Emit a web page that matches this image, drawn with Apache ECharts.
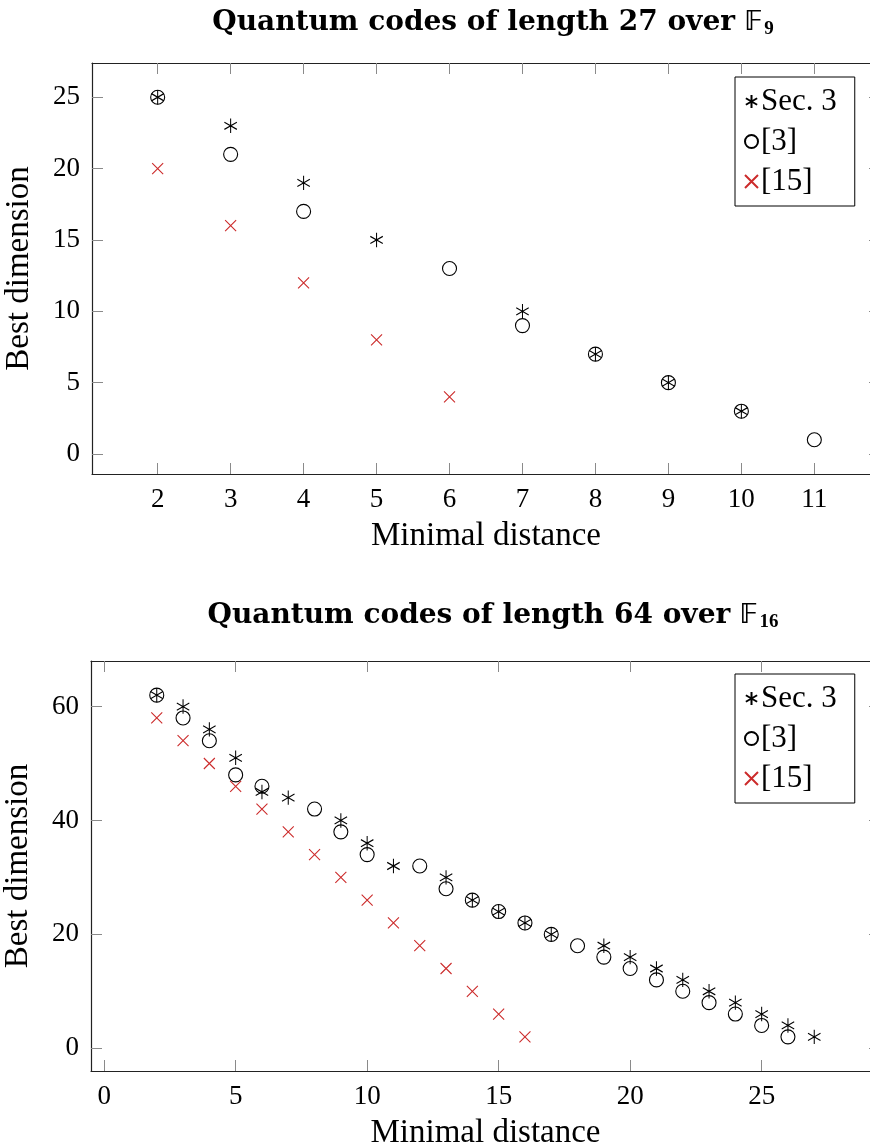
<!DOCTYPE html>
<html>
<head>
<meta charset="utf-8">
<script src="https://cdn.jsdelivr.net/npm/echarts@6/dist/echarts.min.js"></script>
<style>
html,body{margin:0;padding:0;background:#fff;overflow:hidden;}
#c{width:870px;height:1147px;}
</style>
</head>
<body>
<div id="c"></div>
<script>
// ---- Chart 1: length 27 over F9 ----
var top_sec3_d = [2, 3, 4, 5, 7, 8, 9, 10];
var top_sec3_k = [25, 23, 19, 15, 10, 7, 5, 3];
var top_ref3_d = [2, 3, 4, 6, 7, 8, 9, 10, 11];
var top_ref3_k = [25, 21, 17, 13, 9, 7, 5, 3, 1];
var top_ref15_d = [2, 3, 4, 5, 6];
var top_ref15_k = [20, 16, 12, 8, 4];
var top_xticks = [2, 3, 4, 5, 6, 7, 8, 9, 10, 11];
var top_yticks = [0, 5, 10, 15, 20, 25];

// ---- Chart 2: length 64 over F16 ----
var bot_sec3_d = [2, 3, 4, 5, 6, 7, 9, 10, 11, 13, 14, 15, 16, 17, 19, 20, 21, 22, 23, 24, 25, 26, 27];
var bot_sec3_k = [62, 60, 56, 51, 45, 44, 40, 36, 32, 30, 26, 24, 22, 20, 18, 16, 14, 12, 10, 8, 6, 4, 2];
var bot_ref3_d = [2, 3, 4, 5, 6, 8, 9, 10, 12, 13, 14, 15, 16, 17, 18, 19, 20, 21, 22, 23, 24, 25, 26];
var bot_ref3_k = [62, 58, 54, 48, 46, 42, 38, 34, 32, 28, 26, 24, 22, 20, 18, 16, 14, 12, 10, 8, 6, 4, 2];
var bot_ref15_d = [2, 3, 4, 5, 6, 7, 8, 9, 10, 11, 12, 13, 14, 15, 16];
var bot_ref15_k = [58, 54, 50, 46, 42, 38, 34, 30, 26, 22, 18, 14, 10, 6, 2];
var bot_xticks = [0, 5, 10, 15, 20, 25];
var bot_yticks = [0, 20, 40, 60];

var seriesNames = ['Sec. 3', '[3]', '[15]'];

function pairs(xs, ys) { return xs.map(function (x, i) { return [x, ys[i]]; }); }

var FONT = 'Liberation Serif, DejaVu Serif, serif';
var RED = '#cc2b2b';
var ASTER = 'path://M0,-1L0,1M-0.866,-0.5L0.866,0.5M-0.866,0.5L0.866,-0.5';
var CROSS = 'path://M-1,-1L1,1M-1,1L1,-1';
var FRAME = { show: true, onZero: false, lineStyle: { color: '#222', width: 1.2 } };

function mkSeries(name, data, gi) {
  var s = { name: name, type: 'scatter', data: data, xAxisIndex: gi * 2, yAxisIndex: gi * 2, silent: true, animation: false };
  if (name === 'Sec. 3') {
    s.symbol = ASTER; s.symbolSize = [12.5, 14.4];
    s.itemStyle = { color: 'transparent', borderColor: '#000', borderWidth: 1.1, opacity: 1 };
  } else if (name === '[3]') {
    s.symbol = 'circle'; s.symbolSize = 14;
    s.itemStyle = { color: 'transparent', borderColor: '#000', borderWidth: 1.1, opacity: 1 };
  } else {
    s.symbol = CROSS; s.symbolSize = 11;
    s.itemStyle = { color: 'transparent', borderColor: RED, borderWidth: 1.1, opacity: 1 };
  }
  return s;
}

function xAx(gi, min, max, ticks, isTop, name) {
  return {
    type: 'value', gridIndex: gi, min: min, max: max, position: isTop ? 'top' : 'bottom',
    splitLine: { show: false },
    axisLine: FRAME,
    axisTick: { show: true, inside: true, length: 11, customValues: ticks, lineStyle: { color: '#8a8a8a', width: 1 } },
    axisLabel: { show: !isTop, customValues: ticks, margin: 12, fontFamily: FONT, fontSize: 27, color: '#000' },
    name: isTop ? '' : name, nameLocation: 'middle', nameGap: 46,
    nameTextStyle: { fontFamily: FONT, fontSize: 33, color: '#000' }
  };
}
function yAx(gi, min, max, ticks, isRight, name) {
  return {
    type: 'value', gridIndex: gi, min: min, max: max, position: isRight ? 'right' : 'left',
    splitLine: { show: false },
    axisLine: FRAME,
    axisTick: { show: true, inside: true, length: 11, customValues: ticks, lineStyle: { color: '#8a8a8a', width: 1 } },
    axisLabel: { show: !isRight, customValues: ticks, margin: 12, fontFamily: FONT, fontSize: 27, color: '#000' },
    name: isRight ? '' : name, nameLocation: 'middle', nameGap: 56, nameRotate: 90,
    nameTextStyle: { fontFamily: FONT, fontSize: 33, color: '#000' }
  };
}

var TFONT = 'DejaVu Serif, Liberation Serif, serif';
function titleText(n, q) {
  return '{b|Quantum codes of length }{n|' + n + '}{b| over }{bb|\uD835\uDD3D}{s|' + q + '}';
}
var titleRich = {
  b: { fontFamily: TFONT, fontWeight: 'bold', fontSize: 28, color: '#000' },
  n: { fontFamily: TFONT, fontSize: 28, color: '#000' },
  bb: { fontFamily: 'DejaVu Sans, DejaVu Serif, Noto Sans', fontSize: 27, color: '#000' },
  s: { fontFamily: FONT, fontSize: 19, color: '#000', verticalAlign: 'bottom', padding: [13, 0, 0, 1] }
};

var legendBase = {
  orient: 'vertical', data: seriesNames, selectedMode: false,
  backgroundColor: '#fff', borderColor: '#000', borderWidth: 1,
  padding: [9, 18, 9, 9], itemGap: 9, itemWidth: 13, itemHeight: 13,
  textStyle: { fontFamily: FONT, fontSize: 31, lineHeight: 30, color: '#000', padding: [0, 0, 0, -2] }
};

var option = {
  animation: false,
  backgroundColor: '#fff',
  title: [
    { text: titleText('27', '9'), left: 488, top: 2, textAlign: 'center', textStyle: { rich: titleRich } },
    { text: titleText('64', '16'), left: 488, top: 595, textAlign: 'center', textStyle: { rich: titleRich } }
  ],
  legend: [
    Object.assign({}, legendBase, { left: 735, top: 77 }),
    Object.assign({}, legendBase, { left: 735, top: 674 })
  ],
  grid: [
    { left: 92, top: 63, width: 788, height: 411, show: false, containLabel: false, outerBoundsMode: 'none' },
    { left: 91, top: 661, width: 789, height: 410, show: false, containLabel: false, outerBoundsMode: 'none' }
  ],
  xAxis: [
    xAx(0, 1.1, 11.9, top_xticks, false, 'Minimal distance'),
    xAx(0, 1.1, 11.9, top_xticks, true, ''),
    xAx(1, -0.5, 29.5, bot_xticks, false, 'Minimal distance'),
    xAx(1, -0.5, 29.5, bot_xticks, true, '')
  ],
  yAxis: [
    yAx(0, -1.4, 27.4, top_yticks, false, 'Best dimension'),
    yAx(0, -1.4, 27.4, top_yticks, true, ''),
    yAx(1, -4, 68, bot_yticks, false, 'Best dimension'),
    yAx(1, -4, 68, bot_yticks, true, '')
  ],
  series: [
    mkSeries('Sec. 3', pairs(top_sec3_d, top_sec3_k), 0),
    mkSeries('[3]', pairs(top_ref3_d, top_ref3_k), 0),
    mkSeries('[15]', pairs(top_ref15_d, top_ref15_k), 0),
    mkSeries('Sec. 3', pairs(bot_sec3_d, bot_sec3_k), 1),
    mkSeries('[3]', pairs(bot_ref3_d, bot_ref3_k), 1),
    mkSeries('[15]', pairs(bot_ref15_d, bot_ref15_k), 1)
  ]
};

var chart = echarts.init(document.getElementById('c'), null, { renderer: 'canvas' });
chart.setOption(option);
</script>
</body>
</html>
